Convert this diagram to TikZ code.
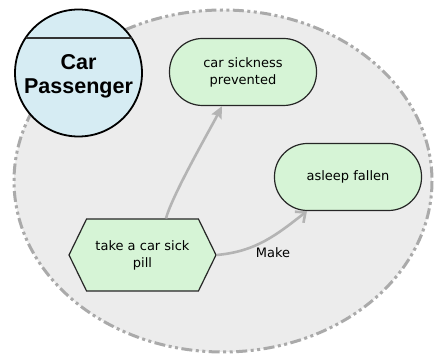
\documentclass[tikz,border=0pt]{standalone}
\usepackage{fontspec}
\setmainfont{DejaVu Sans}
\newfontfamily\boldfont{Liberation Sans}
\usetikzlibrary{shapes.symbols,arrows.meta}
\definecolor{bgfill}{RGB}{236,236,236}
\definecolor{bgline}{RGB}{170,170,170}
\definecolor{greenfill}{RGB}{214,244,214}
\definecolor{bluefill}{RGB}{214,236,243}
\definecolor{arrowgray}{RGB}{180,180,180}
\tikzset{
  goal/.style={draw=black!85, line width=1.2pt, fill=greenfill, rounded corners=33pt,
    minimum width=147pt, minimum height=67pt, align=center, font=\fontsize{13}{17}\selectfont, inner sep=0pt},
  task/.style={draw=black!85, line width=1.2pt, fill=greenfill, shape=signal, signal to=west and east,
    signal pointer angle=128, minimum width=147pt, minimum height=72pt, align=center,
    font=\fontsize{13}{17}\selectfont, inner sep=2pt},
  link/.style={draw=arrowgray, line width=2.6pt},
}
\begin{document}
\begin{tikzpicture}[x=1pt,y=-1pt]
\useasboundingbox (0,0) rectangle (434,355);
% boundary
\draw[bgline, fill=bgfill, line width=3pt, dash pattern=on 11pt off 3.5pt on 3pt off 3.5pt on 3pt off 3.5pt] (223,181) ellipse [x radius=209, y radius=171];
% actor
\node[draw=black, line width=1.8pt, fill=bluefill, circle, minimum size=127pt, inner sep=0pt] (actor) at (78.5,73) {};
\path (actor.center) ++(-53,-35) coordinate (la) (actor.center) ++(53,-35) coordinate (lb);
\draw[black!80, line width=1.5pt] (la) -- (lb);
\node[align=center, font=\boldfont\bfseries\fontsize{21.5}{24}\selectfont] (actortext) at (78.5,76) {Car\\Passenger};
% goals
\node[goal] (prev) at (243,72) {car sickness\\prevented};
\node[goal] (asleep) at (348,177) {asleep fallen};
% task
\node[task] (pill) at (142.5,255) {take a car sick\\pill};
% links
\draw[link, -{Stealth[length=12pt,width=11pt,inset=2pt]}] ([xshift=23.5pt]pill.north) to[out=75,in=-117,looseness=0.5] ([xshift=-21pt]prev.south);
\draw[link, -{Straight Barb[length=8pt,width=14pt]}] (pill.east) to[out=5,in=-142] ([xshift=-41pt]asleep.south);
\node[font=\fontsize{13}{15}\selectfont, inner sep=0pt] (make) at (273,253) {Make};
\end{tikzpicture}
\end{document}
